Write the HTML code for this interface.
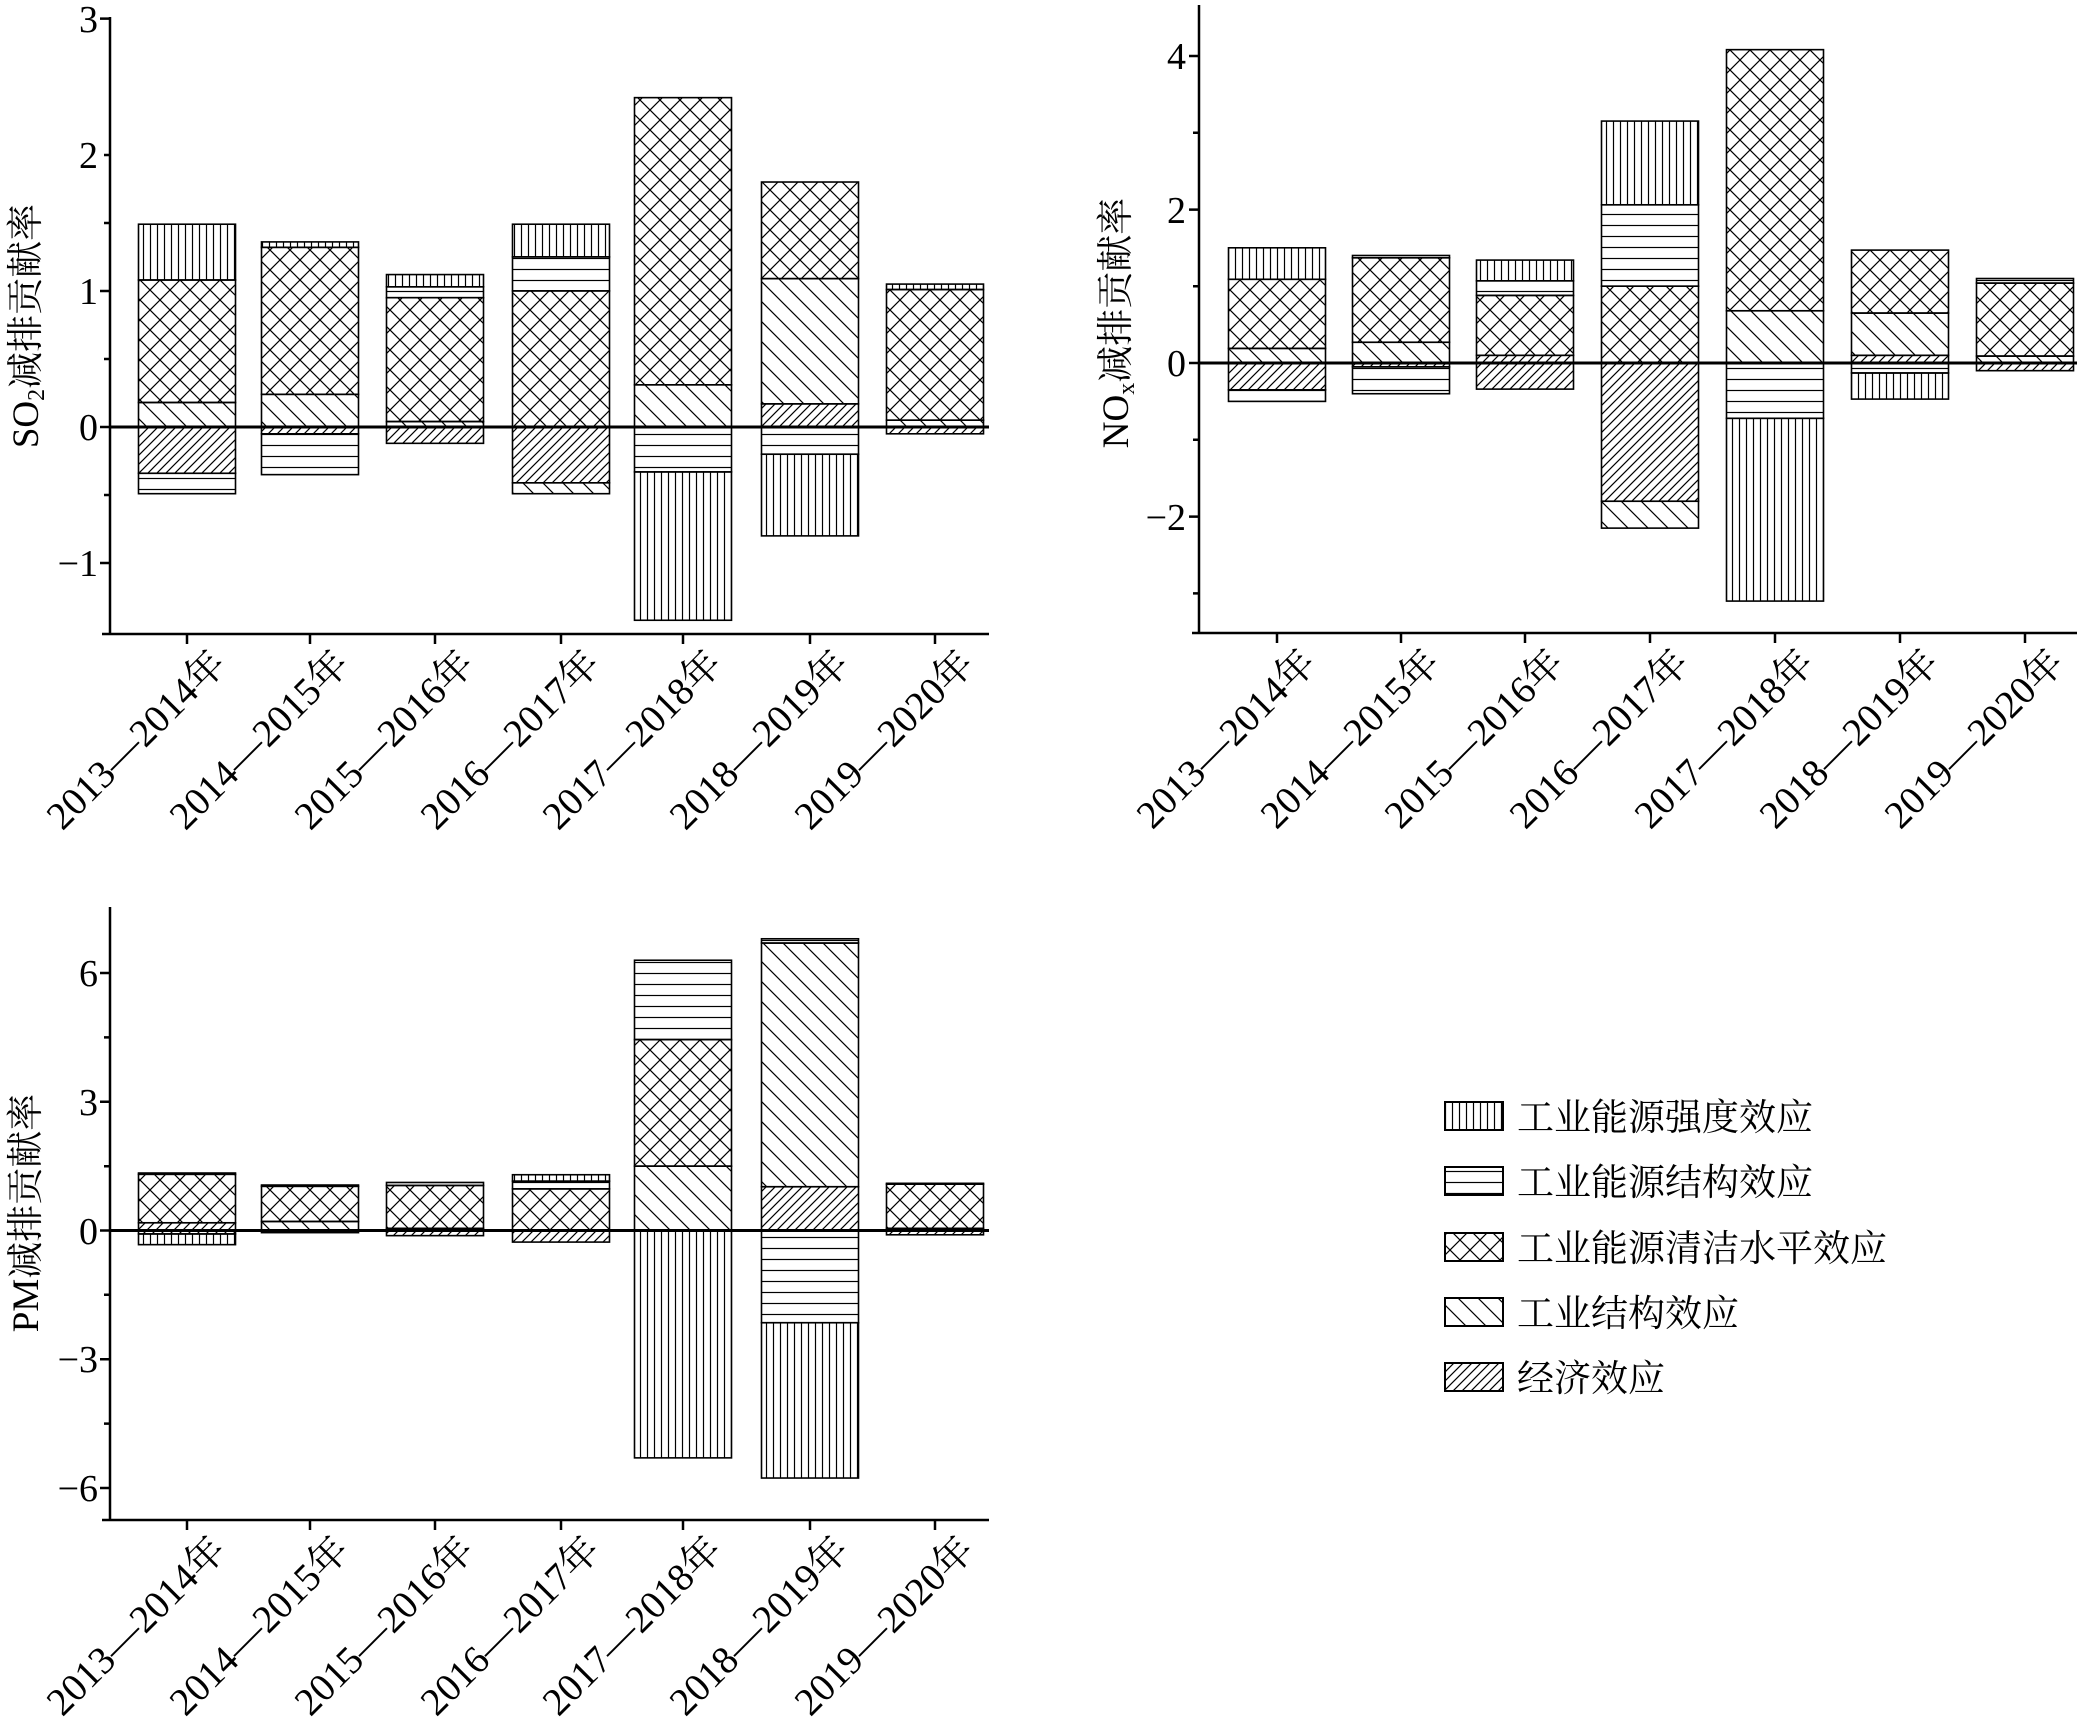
<!DOCTYPE html>
<html><head><meta charset="utf-8"><style>
html,body{margin:0;padding:0;background:#fff;}
svg{display:block;}
text{font-family:"Liberation Serif","Noto Serif CJK SC","Noto Sans CJK SC",serif;fill:#000;}
</style></head><body>
<svg id="s" width="2079" height="1728" viewBox="0 0 2079 1728" xmlns="http://www.w3.org/2000/svg">
<defs>
<pattern id="V" patternUnits="userSpaceOnUse" width="7" height="10"><line x1="3.5" y1="0" x2="3.5" y2="10" stroke="#000" stroke-width="1.2"/></pattern>
<pattern id="H" patternUnits="userSpaceOnUse" width="10" height="11"><line x1="0" y1="5.5" x2="10" y2="5.5" stroke="#000" stroke-width="1.2"/></pattern>
<pattern id="X" patternUnits="userSpaceOnUse" width="20" height="20"><path d="M0,0L20,20M20,0L0,20" stroke="#000" stroke-width="1.2"/></pattern>
<pattern id="S" patternUnits="userSpaceOnUse" width="20" height="20"><path d="M-5,-5L25,25M-5,15L5,25M15,-5L25,5" stroke="#000" stroke-width="1.2"/></pattern>
<pattern id="E" patternUnits="userSpaceOnUse" width="9" height="9"><path d="M-2,11L11,-2M-2,2L2,-2M7,11L11,7" stroke="#000" stroke-width="1.2"/></pattern>
</defs>
<g id="bars"></g>
<g stroke="#000" stroke-width="2.5" fill="none">
<path d="M110,17V634M102,634H989"/>
<path d="M110,18.6H100M110,155H104M110,291H100M110,427H104M110,427H100M110,563H100M110,223H104M110,359H104M110,495H104"/>
<path d="M1199,5V633M1192,633H2077"/>
<path d="M1199,56H1189M1199,209.6H1189M1199,363H1189M1199,516.6H1189M1199,132.8H1193M1199,286.2H1193M1199,439.8H1193M1199,593.4H1193"/>
<path d="M110,907V1520M102,1520H989"/>
<path d="M110,973H100M110,1101.8H100M110,1230.5H100M110,1359.2H100M110,1488H100M110,1037.4H104M110,1166.2H104M110,1294.8H104M110,1423.6H104"/>
</g>
<g stroke="#000" stroke-width="2.5" id="xt"></g>
<g stroke="#000" stroke-width="3">
<path d="M110,427H989M1199,363H2077M110,1230.5H989"/>
</g>
<g font-size="38" text-anchor="end">
<text x="98" y="32">3</text><text x="98" y="168">2</text><text x="98" y="304">1</text><text x="98" y="440">0</text><text x="98" y="576">−1</text>
<text x="1186" y="69">4</text><text x="1186" y="376">0</text><text x="1186" y="223">2</text><text x="1186" y="530">−2</text>
<text x="98" y="986">6</text><text x="98" y="1115">3</text><text x="98" y="1244">0</text><text x="98" y="1372">−3</text><text x="98" y="1501">−6</text>
</g>
<text font-size="37" text-anchor="middle" transform="translate(38,326) rotate(-90)">SO<tspan font-size="24" dy="6">2</tspan><tspan dy="-6">减排贡献率</tspan></text>
<text font-size="37" text-anchor="middle" transform="translate(1128,323) rotate(-90)">NO<tspan font-size="24" dy="6">x</tspan><tspan dy="-6">减排贡献率</tspan></text>
<text font-size="37" text-anchor="middle" transform="translate(38,1213) rotate(-90)">PM减排贡献率</text>
<g font-size="39" text-anchor="end">
<text transform="translate(228,666) rotate(-45)">2013—2014年</text>
<text transform="translate(351,666) rotate(-45)">2014—2015年</text>
<text transform="translate(476,666) rotate(-45)">2015—2016年</text>
<text transform="translate(602,666) rotate(-45)">2016—2017年</text>
<text transform="translate(724,666) rotate(-45)">2017—2018年</text>
<text transform="translate(851,666) rotate(-45)">2018—2019年</text>
<text transform="translate(976,666) rotate(-45)">2019—2020年</text>
<text transform="translate(1318,665) rotate(-45)">2013—2014年</text>
<text transform="translate(1442,665) rotate(-45)">2014—2015年</text>
<text transform="translate(1566,665) rotate(-45)">2015—2016年</text>
<text transform="translate(1691,665) rotate(-45)">2016—2017年</text>
<text transform="translate(1816,665) rotate(-45)">2017—2018年</text>
<text transform="translate(1941,665) rotate(-45)">2018—2019年</text>
<text transform="translate(2066,665) rotate(-45)">2019—2020年</text>
<text transform="translate(228,1552) rotate(-45)">2013—2014年</text>
<text transform="translate(351,1552) rotate(-45)">2014—2015年</text>
<text transform="translate(476,1552) rotate(-45)">2015—2016年</text>
<text transform="translate(602,1552) rotate(-45)">2016—2017年</text>
<text transform="translate(724,1552) rotate(-45)">2017—2018年</text>
<text transform="translate(851,1552) rotate(-45)">2018—2019年</text>
<text transform="translate(976,1552) rotate(-45)">2019—2020年</text>
</g>
<g stroke="#000" stroke-width="2">
<rect x="1445" y="1102" width="58" height="28" fill="url(#V)"/>
<rect x="1445" y="1167" width="58" height="28" fill="url(#H)"/>
<rect x="1445" y="1233" width="58" height="28" fill="url(#X)"/>
<rect x="1445" y="1298" width="58" height="28" fill="url(#S)"/>
<rect x="1445" y="1363" width="58" height="28" fill="url(#E)"/>
</g>
<g font-size="37" style="font-family:'Noto Sans CJK SC',sans-serif">
<text x="1517" y="1130">工业能源强度效应</text>
<text x="1517" y="1195">工业能源结构效应</text>
<text x="1517" y="1261">工业能源清洁水平效应</text>
<text x="1517" y="1326">工业结构效应</text>
<text x="1517" y="1391">经济效应</text>
</g>
</svg>
<script>
var NS="http://www.w3.org/2000/svg";
var g=document.getElementById("bars"),xt=document.getElementById("xt");
function P(y0,k,xs,data){
 data.forEach(function(b,i){
  var cx=xs[i];
  var t=document.createElementNS(NS,"line");
  t.setAttribute("x1",cx);t.setAttribute("x2",cx);
  t.setAttribute("y1",P.ax);t.setAttribute("y2",P.ax+10);xt.appendChild(t);
  b.forEach(function(s){
   var a=y0-k*s[0],c=y0-k*s[1];
   var r=document.createElementNS(NS,"rect");
   r.setAttribute("x",cx-48.5);r.setAttribute("width",97);
   r.setAttribute("y",Math.min(a,c));r.setAttribute("height",Math.abs(a-c));
   r.setAttribute("fill","url(#"+s[2]+")");r.setAttribute("stroke","#000");r.setAttribute("stroke-width","1.6");
   g.appendChild(r);
  });
 });
}
var xA=[187,310,435,561,683,810,935],xB=[1277,1401,1525,1650,1775,1900,2025];
P.ax=634;
P(427,136.1,xA,[
 [[0,.18,"S"],[.18,1.08,"X"],[1.08,1.49,"V"],[0,-.34,"E"],[-.34,-.49,"H"]],
 [[0,.24,"S"],[.24,1.32,"X"],[1.32,1.36,"V"],[0,-.05,"E"],[-.05,-.35,"H"]],
 [[0,.04,"S"],[.04,.95,"X"],[.95,1.03,"H"],[1.03,1.12,"V"],[0,-.12,"E"]],
 [[0,1.0,"X"],[1.0,1.25,"H"],[1.25,1.49,"V"],[0,-.41,"E"],[-.41,-.49,"S"]],
 [[0,.31,"S"],[.31,2.42,"X"],[0,-.33,"H"],[-.33,-1.42,"V"]],
 [[0,.17,"E"],[.17,1.09,"S"],[1.09,1.8,"X"],[0,-.2,"H"],[-.2,-.8,"V"]],
 [[0,.05,"S"],[.05,1.01,"X"],[1.01,1.05,"V"],[0,-.05,"E"]]
]);
P.ax=633;
P(363,76.8,xB,[
 [[0,.19,"S"],[.19,1.09,"X"],[1.09,1.5,"V"],[0,-.35,"E"],[-.35,-.5,"H"]],
 [[0,.27,"S"],[.27,1.37,"X"],[1.37,1.4,"H"],[0,-.05,"E"],[-.05,-.4,"H"]],
 [[0,.1,"E"],[.1,.88,"X"],[.88,1.07,"H"],[1.07,1.34,"V"],[0,-.34,"E"]],
 [[0,1.0,"X"],[1.0,2.06,"H"],[2.06,3.15,"V"],[0,-1.8,"E"],[-1.8,-2.15,"S"]],
 [[0,.68,"S"],[.68,4.08,"X"],[0,-.72,"H"],[-.72,-3.1,"V"]],
 [[0,.1,"E"],[.1,.65,"S"],[.65,1.47,"X"],[0,-.13,"H"],[-.13,-.47,"V"]],
 [[0,.09,"S"],[.09,1.04,"X"],[1.04,1.1,"H"],[0,-.1,"E"]]
]);
P.ax=1520;
P(1230.5,42.9,xA,[
 [[0,.18,"E"],[.18,1.31,"X"],[1.31,1.34,"H"],[0,-.08,"E"],[-.08,-.33,"V"]],
 [[0,.21,"S"],[.21,1.03,"X"],[1.03,1.06,"H"],[0,-.05,"E"]],
 [[0,.05,"E"],[.05,1.05,"X"],[1.05,1.12,"H"],[0,-.12,"E"]],
 [[0,.97,"X"],[.97,1.15,"H"],[1.15,1.3,"V"],[0,-.27,"E"]],
 [[0,1.5,"S"],[1.5,4.45,"X"],[4.45,6.3,"H"],[0,-5.3,"V"]],
 [[0,1.02,"E"],[1.02,6.7,"S"],[6.7,6.8,"H"],[0,-2.15,"H"],[-2.15,-5.77,"V"]],
 [[0,.05,"E"],[.05,1.08,"X"],[1.08,1.1,"H"],[0,-.1,"E"]]
]);
</script>
</body></html>
